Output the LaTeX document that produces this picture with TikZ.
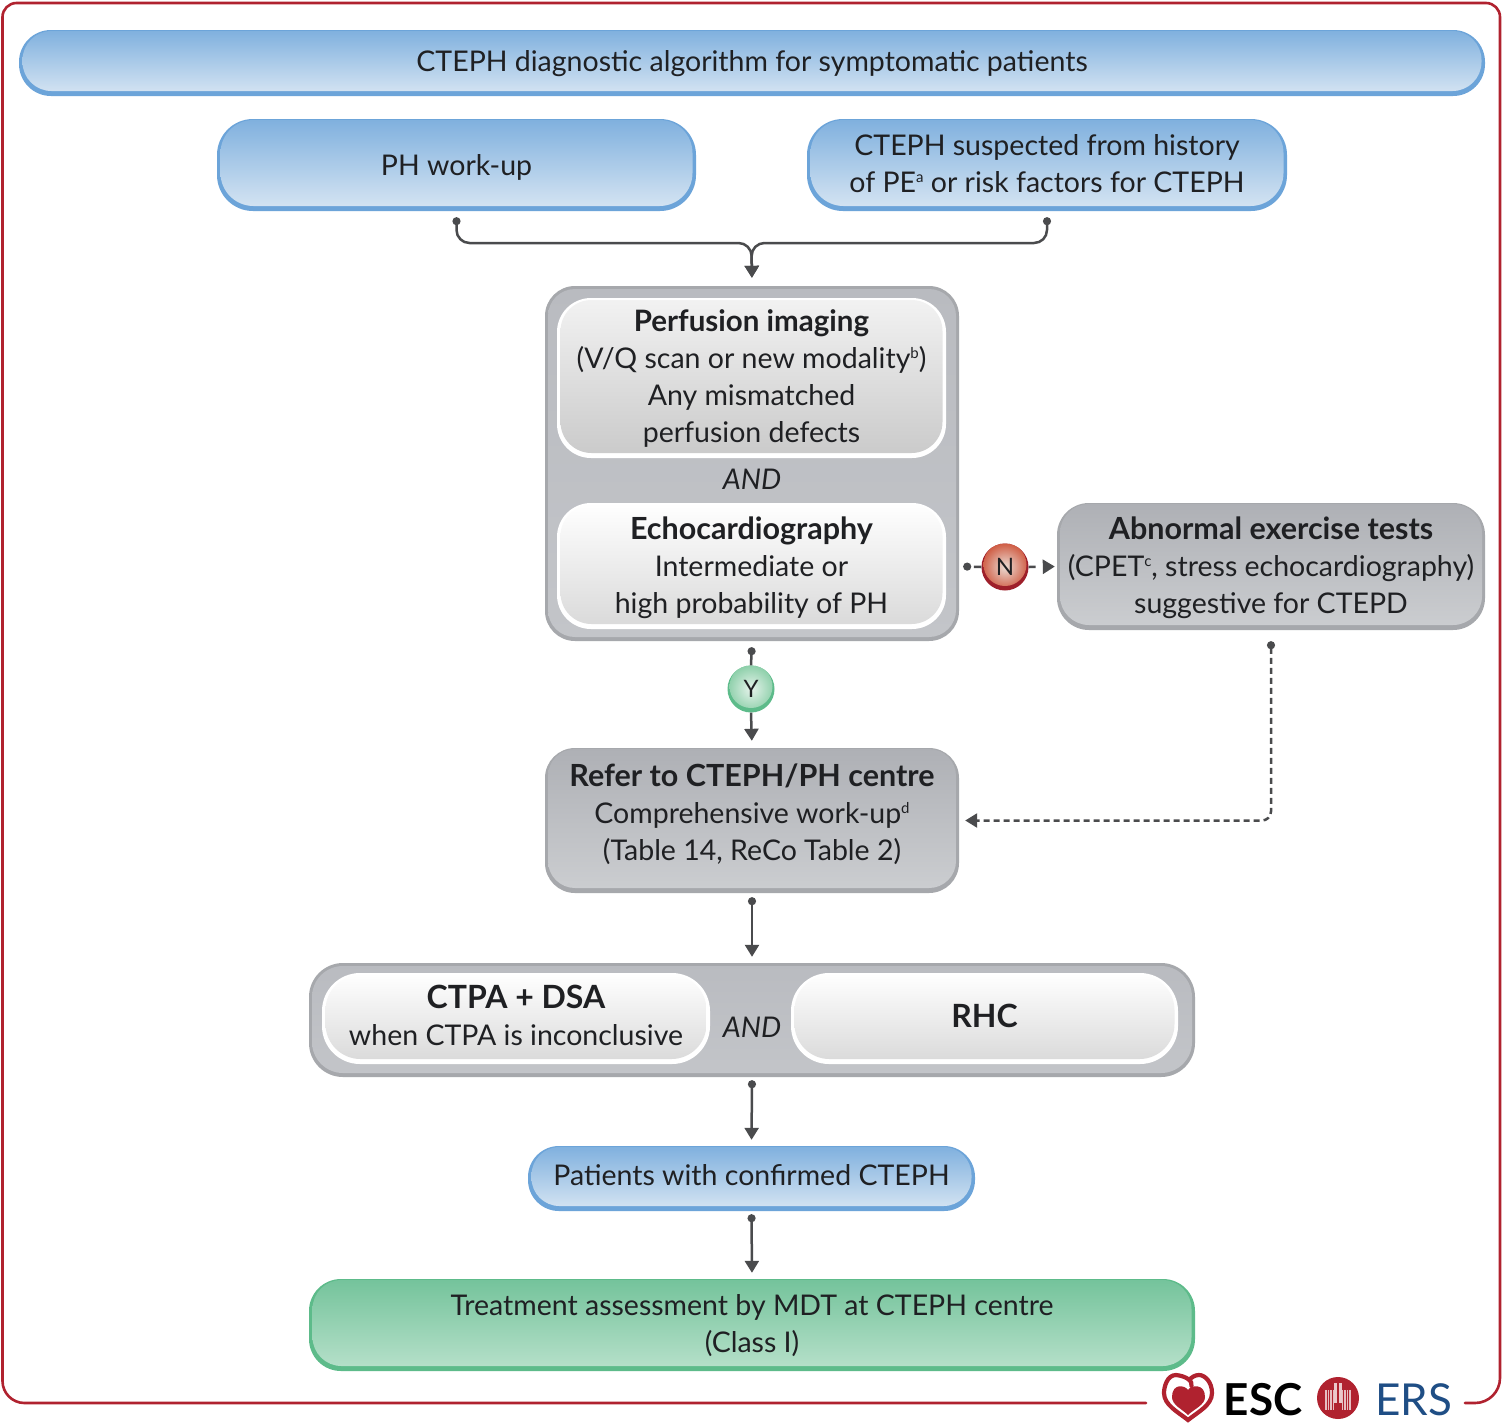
\documentclass[tikz,border=0pt]{standalone}
\usepackage{fontspec}
\setmainfont{Lato}
\usetikzlibrary{arrows.meta,calc}
\definecolor{ink}{HTML}{1F2023}
\definecolor{frame}{HTML}{B0222F}
\definecolor{bluedge}{HTML}{6CA4D9}
\definecolor{bluetop}{HTML}{7FB0DE}
\definecolor{bluebot}{HTML}{D8E6F3}
\definecolor{grayedge}{HTML}{A6A8AC}
\definecolor{panelbody}{HTML}{B9BBC0}
\definecolor{panelbot}{HTML}{C3C5C9}
\definecolor{graytop}{HTML}{AEB0B5}
\definecolor{graybot}{HTML}{CCCED1}
\definecolor{greenedge}{HTML}{5DBB8A}
\definecolor{greentop}{HTML}{74C39B}
\definecolor{greenbot}{HTML}{B8E1CB}
\definecolor{conn}{HTML}{4A4B4D}
\definecolor{ersblue}{HTML}{1F4E85}
\definecolor{nocenter}{HTML}{EBDCD4}
\definecolor{noouter}{HTML}{CF5B42}
\definecolor{yescenter}{HTML}{E6F3EB}
\definecolor{yesouter}{HTML}{8CCFA9}
\newcommand\hd[1]{{\fontsize{30.5}{37}\selectfont\bfseries #1}}
\newcommand\hdp[1]{{\fontsize{29.5}{37}\selectfont\bfseries #1}}
\newcommand\hdb[1]{{\fontsize{32}{37}\selectfont\bfseries #1}}
\newcommand\sups[1]{\raisebox{10pt}{\fontsize{15}{15}\selectfont #1}}
\newcommand\strutTop[1]{\rule{0pt}{\dimexpr24pt+#1pt\relax}}
\newcommand\strutBot[1]{\rule[\dimexpr-24pt+#1pt\relax]{0pt}{1pt}}
\tikzset{
  x=1pt,y=-1pt,
  txt/.style={text=ink,align=center,inner sep=0pt,font=\fontsize{28.5}{37}\selectfont},
  softbox/.style n args={7}{txt,rounded corners=#1,fill=#2,
    path picture={\shade[rounded corners=#1-3,top color=#3,bottom color=#4]
      ($(path picture bounding box.south west)+(#5,-#6)$) rectangle
      ($(path picture bounding box.north east)+(-#5,#7)$);}},
  bluebox/.style={softbox={#1}{bluedge}{bluetop}{bluebot}{3.5}{5}{1}},
  greenbox/.style={softbox={32}{greenedge}{greentop}{greenbot}{3.5}{5}{1}},
  panel/.style={softbox={#1}{grayedge}{panelbody}{panelbot}{3}{4}{3}},
  graybox/.style={softbox={#1}{grayedge}{graytop}{graybot}{3}{5}{1}},
  innera/.style={softbox={34}{white}{white!95!black}{white!79!black}{3.5}{5}{2}},
  innerb/.style={softbox={#1}{white}{white}{white!85!black}{3.5}{5}{2}},
  ctip/.style={draw=conn,line width=2.5pt,line join=round},
  fromdot/.style={{Circle[length=8pt,width=8pt]}-{Triangle[length=12pt,width=14pt]}},
  fromdotonly/.style={{Circle[length=8pt,width=8pt]}-},
  toarrow/.style={-{Triangle[length=12pt,width=14pt]}},
  yn/.style={circle,minimum size=47pt,inner sep=0pt,text=ink,font=\fontsize{24}{26}\selectfont},
  lab/.style={txt,font=\fontsize{28.5}{37}\selectfont\itshape},
  logotext/.style={inner sep=0pt},
}
\begin{document}
\begin{tikzpicture}
\useasboundingbox (0,0) rectangle (1505,1425);
\fill[white] (0,0) rectangle (1505,1425);
% frame
\draw[frame,line width=2.6pt,line cap=round] (1146,1403) [rounded corners=22] -- (2.5,1403) [rounded corners=14] -- (2.5,3) -- (1500,3) [rounded corners=25] -- (1500,1403) -- (1465,1403);
% boxes
\node[bluebox=32,minimum width=1466,minimum height=66] (title) at (752,63) {\strutTop{8}CTEPH diagnostic algorithm for symptomatic patients\strutBot{8}};
\node[bluebox=36,minimum width=479,minimum height=92] (ph) at (456.5,165) {\strutTop{10}PH work-up\strutBot{10}};
\node[bluebox=36,minimum width=480,minimum height=92] (sus) at (1047,165) {\strutTop{8.5}CTEPH suspected from history\\of PE\sups{a} or risk factors for CTEPH\strutBot{8.5}};
\node[panel=30,minimum width=414,minimum height=355] (imgpanel) at (752,463.5) {};
\node[innera,minimum width=389,minimum height=160] (perf) at (751.5,378) {\strutTop{8.5}\hdp{Perfusion imaging}\\(V/Q scan or new modality\sups{b})\\Any mismatched\\perfusion defects\strutBot{8.5}};
\node[lab] (and1) at (752,479) {AND};
\node[innerb=34,minimum width=389,minimum height=126] (echo) at (751.5,566) {\strutTop{10}\hd{Echocardiography}\\Intermediate or\\high probability of PH\strutBot{10}};
\node[graybox=32,minimum width=428,minimum height=127] (abn) at (1271,566.5) {\strutTop{9.5}\hd{Abnormal exercise tests}\\(CPET\sups{c}, stress echocardiography)\\suggestive for CTEPD\strutBot{9.5}};
\node[graybox=30,minimum width=414,minimum height=145] (refer) at (752,820.5) {\strutTop{2.5}\hd{Refer to CTEPH/PH centre}\\Comprehensive work-up\sups{d}\\(Table 14, ReCo Table 2)\strutBot{2.5}};
\node[panel=34,minimum width=886,minimum height=114] (ctpanel) at (752,1020) {};
\node[innerb=38,minimum width=388,minimum height=91] (ctpa) at (516,1018.5) {\strutTop{8}\hdb{CTPA + DSA}\\when CTPA is inconclusive\strutBot{8}};
\node[lab] (and2) at (752,1027) {AND};
\node[innerb=38,minimum width=387,minimum height=91] (rhc) at (984.5,1018.5) {\strutTop{8.5}\hdb{RHC}\strutBot{8.5}};
\node[bluebox=31,minimum width=447,minimum height=65] (conf) at (751.5,1178.5) {\strutTop{7}Patients with confirmed CTEPH\strutBot{7}};
\node[greenbox,minimum width=886,minimum height=92] (treat) at (752,1325) {\strutTop{8.5}Treatment assessment by MDT at CTEPH centre\\(Class I)\strutBot{8.5}};
% circles
\node[yn,fill=frame!90!black,path picture={\shade[inner color=nocenter,outer color=noouter] ($(path picture bounding box.center)+(0,-2.5)$) circle (21.5);}] (no) at (1005,567) {N};
\node[yn,fill=greenedge,path picture={\shade[inner color=yescenter,outer color=yesouter] ($(path picture bounding box.center)+(0,-2.5)$) circle (21.5);}] (yes) at (751,689) {Y};
% connectors
\coordinate (merge) at (751.5,243);
\draw[ctip,fromdot,rounded corners=13,shorten <=6pt,shorten >=8pt] (ph.south) |- (merge) -- (imgpanel.north);
\draw[ctip,fromdot,rounded corners=13,shorten <=6pt,shorten >=8pt] (sus.south) |- (merge) -- (imgpanel.north);
\draw[ctip,fromdotonly,shorten <=6pt] (imgpanel.south) -- (yes.north);
\draw[ctip,toarrow,shorten >=7pt] (yes.south) -- (refer.north);
\draw[ctip,fromdotonly,dash pattern=on 0pt off 4pt on 12pt off 20pt,shorten <=17pt] (echo.east) -- (no.west);
\draw[ctip,toarrow,dash pattern=on 7pt off 20pt,shorten >=2pt] (no.east) -- (abn.west);
\draw[ctip,fromdot,dash pattern=on 6pt off 4pt,rounded corners=9,shorten <=11pt,shorten >=6pt] (abn.south) |- (refer.east);
\draw[ctip,fromdot,shorten <=4pt,shorten >=6pt] (refer.south) -- (ctpanel.north);
\draw[ctip,fromdot,shorten <=3pt,shorten >=6pt] (ctpanel.south) -- (conf.north);
\draw[ctip,fromdot,shorten <=3pt,shorten >=6pt] (conf.south) -- (treat.north);
% logo: heart
\draw[frame,line width=4.2pt,line cap=round] (1191.5,1386) .. controls (1193,1381) and (1186,1376) .. (1176,1375) .. controls (1167,1375) and (1164,1387) .. (1164,1393) .. controls (1164,1405) and (1178,1412) .. (1188,1420) .. controls (1198,1412) and (1212,1405) .. (1212,1393) .. controls (1212,1382) and (1205,1375) .. (1199,1375) .. controls (1195,1375) and (1192,1377) .. (1189,1380);
\fill[frame] (1188,1390) .. controls (1185,1385) and (1172,1383) .. (1172,1397) .. controls (1172,1405) and (1182,1409) .. (1188,1415) .. controls (1194,1409) and (1205,1405) .. (1205,1397) .. controls (1205,1383) and (1191,1385) .. (1188,1390) -- cycle;
\node[logotext,text=black,font=\fontsize{44}{44}\selectfont\bfseries] (esc) at (1263,1400) {ESC};
% logo: lungs
\fill[frame] (1338,1398) circle (21);
\foreach \dx in {-12,-9.5,-7,-4.5,4.5,7,9.5,12}{\draw[white!70!frame,line width=1.6pt] (1338+\dx,1390) -- (1338+\dx,1410);}
\draw[white!75!frame,line width=2.2pt] (1335.5,1383) -- (1335.5,1403);
\draw[white!75!frame,line width=2.2pt] (1340.5,1383) -- (1340.5,1403);
\node[logotext,text=ersblue,font=\fontsize{44}{44}\selectfont] (ers) at (1413.5,1400) {ERS};
\end{tikzpicture}
\end{document}
